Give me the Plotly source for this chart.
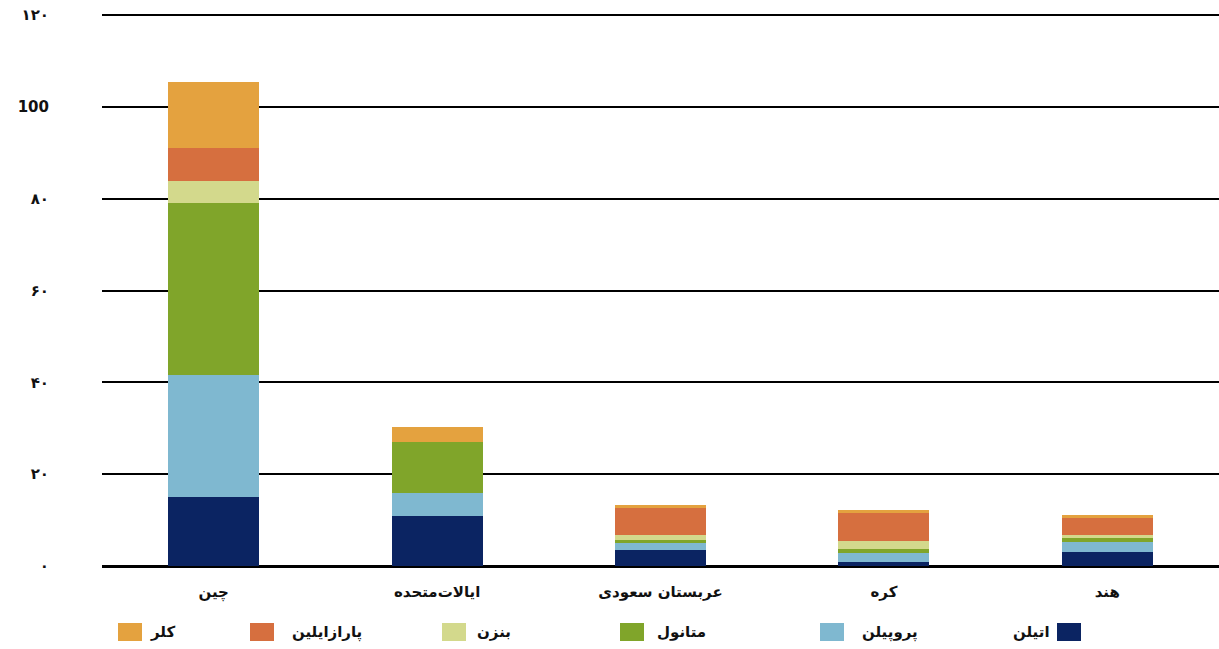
import plotly.graph_objects as go

W, H = 1219, 649

categories = ["چین", "ایالات‌متحده", "عربستان سعودی", "کره", "هند"]

series_names = ["اتیلن", "پروپیلن", "متانول", "بنزن", "پارازایلین", "کلر"]
ethylene = [15.0, 10.9, 3.5, 0.8, 3.0]
propylene = [26.6, 5.0, 1.5, 2.0, 2.2]
methanol = [37.5, 11.1, 0.6, 1.0, 0.8]
benzene = [4.8, 0.0, 1.2, 1.7, 0.7]
paraxylene = [7.2, 0.0, 5.8, 6.1, 3.7]
chlorine = [14.2, 3.3, 0.7, 0.7, 0.7]
series_values = [ethylene, propylene, methanol, benzene, paraxylene, chlorine]

tick_vals = [0, 20, 40, 60, 80, 100, 120]
tick_text = ["۰", "۲۰", "۴۰", "۶۰", "۸۰", "100", "۱۲۰"]

colors = ["#0b2462", "#7fb8d0", "#80a52a", "#d3d98c", "#d66f3f", "#e4a23f"]

FONT = "DejaVu Sans"

fig = go.Figure()
for name, vals, col in zip(series_names, series_values, colors):
    fig.add_trace(go.Bar(x=categories, y=vals, name=name, marker=dict(color=col, line=dict(width=0)),
                         showlegend=False))

# plot area in pixels
x0_px = 102
y_bot_px = 566
px_per_unit = (566 - 15) / 120.0
y_max = 120.4
y_top_px = y_bot_px - y_max * px_per_unit

def px_x(p):
    return p / W

def px_y(p):
    return (H - p) / H

# manual legend (layout only): swatch left px, text x px, text anchor
legend_layout = [
    (1057, 1052, "right"),   # اتیلن
    (820, 860, "left"),      # پروپیلن
    (620, 655, "left"),      # متانول
    (442, 475, "left"),      # بنزن
    (250, 290, "left"),      # پارازایلین
    (118, 148, "left"),      # کلر
]
shapes = []
annotations = []
ly = 632
for name, col, (sl, tx, anc) in zip(series_names, colors, legend_layout):
    shapes.append(dict(type="rect", xref="paper", yref="paper",
                       x0=px_x(sl), x1=px_x(sl + 24), y0=px_y(ly + 9), y1=px_y(ly - 9),
                       fillcolor=col, line=dict(width=0)))
    annotations.append(dict(xref="paper", yref="paper", x=px_x(tx), y=px_y(ly),
                            text="<b>" + name + "</b>", showarrow=False,
                            xanchor=anc, yanchor="middle",
                            font=dict(family=FONT, size=15, color="#111111")))

fig.update_layout(
    barmode="stack",
    bargap=0.593,
    width=W, height=H,
    margin=dict(l=0, r=0, t=0, b=0),
    paper_bgcolor="white",
    plot_bgcolor="white",
    font=dict(family=FONT, color="#111111"),
    xaxis=dict(
        domain=[px_x(x0_px), 1.0],
        tickfont=dict(family=FONT, size=15, color="#111111", weight="bold"),
        showgrid=False, showline=False, ticks="",
        ticklabelstandoff=15,
        automargin=False,
    ),
    yaxis=dict(
        domain=[px_y(y_bot_px), px_y(y_top_px)],
        range=[0, y_max],
        tickvals=tick_vals, ticktext=tick_text,
        tickfont=dict(family=FONT, size=15, color="#111111", weight="bold"),
        showgrid=True, gridcolor="#000000", gridwidth=1.5,
        zeroline=True, zerolinecolor="#000000", zerolinewidth=3,
        showline=False, ticks="",
        ticklabelstandoff=52,
        automargin=False,
    ),
    shapes=shapes,
    annotations=annotations,
)

fig.write_html("out.html")
